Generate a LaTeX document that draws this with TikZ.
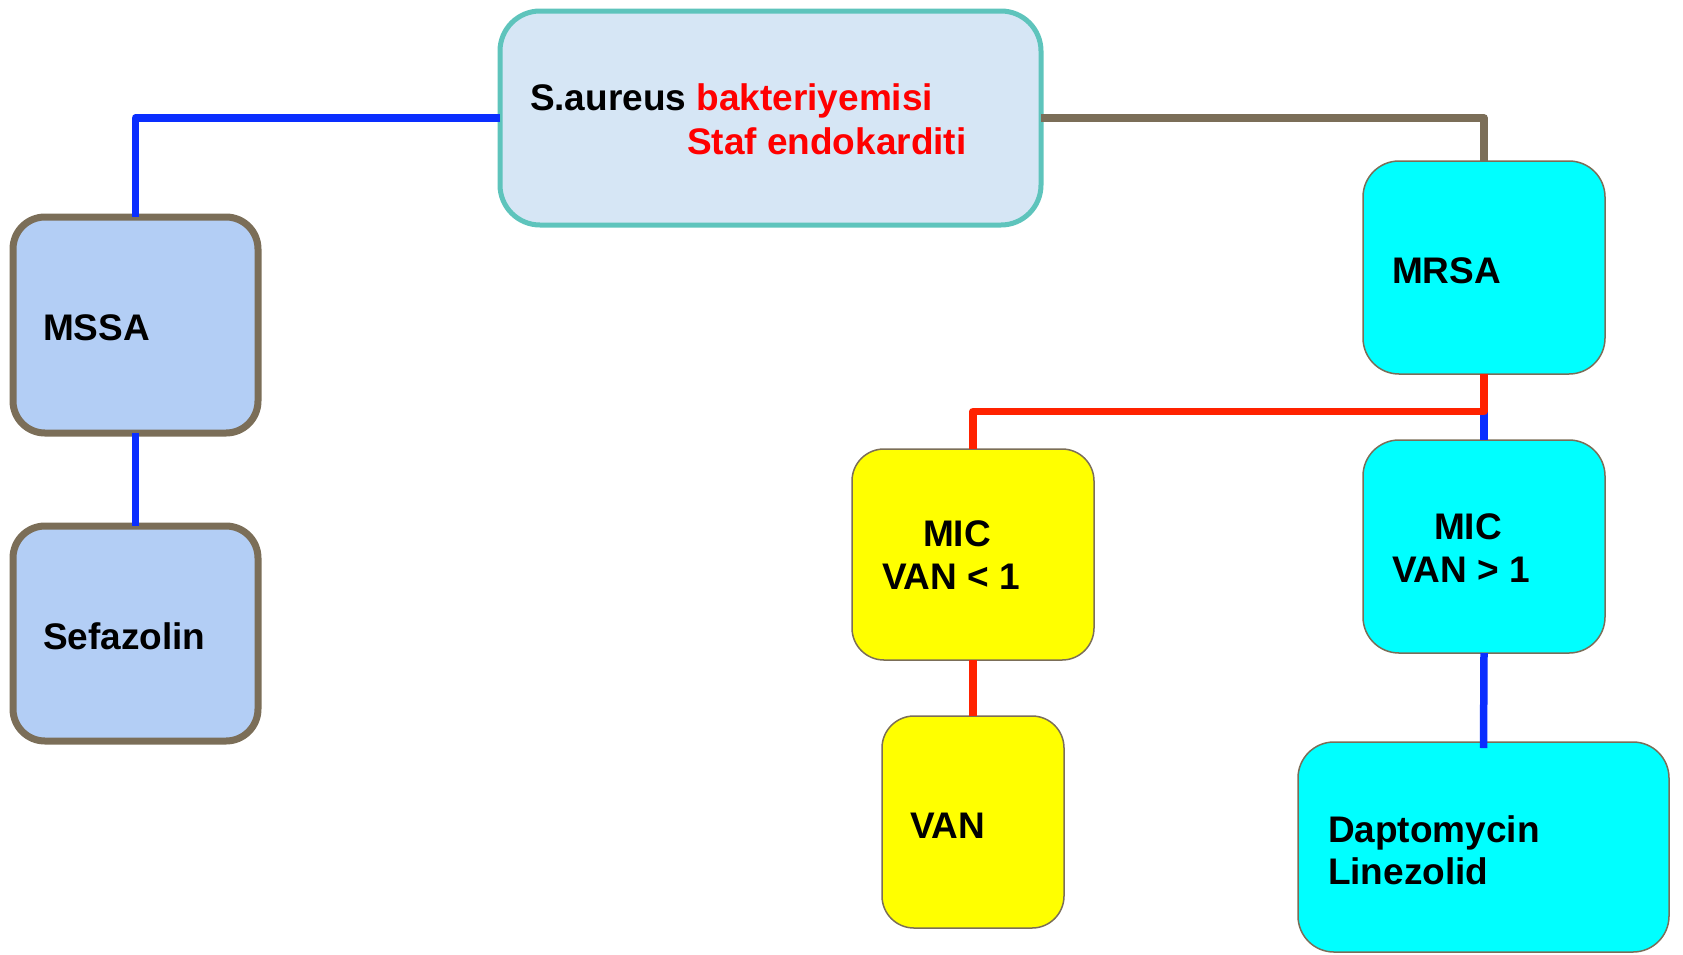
\documentclass[tikz,border=0pt]{standalone}
\usepackage{fontspec}
\setmainfont{Liberation Sans}
\definecolor{topfill}{HTML}{D6E6F5}
\definecolor{topedge}{HTML}{5EC4BC}
\definecolor{brownedge}{HTML}{7B6E58}
\definecolor{mssafill}{HTML}{B3CEF5}
\definecolor{cyanfill}{HTML}{00FFFF}
\definecolor{yelfill}{HTML}{FFFF00}
\definecolor{lblue}{HTML}{0A2EFF}
\definecolor{lred}{HTML}{FF2200}
\definecolor{tred}{HTML}{FF0000}
\begin{document}
\begin{tikzpicture}[x=1pt,y=-1pt,
  box/.style={rectangle,inner sep=0pt,outer sep=0pt},
  topbox/.style={box,draw=topedge,line width=5pt,fill=topfill,rounded corners=40pt},
  mbox/.style={box,draw=brownedge,line width=7pt,fill=mssafill,rounded corners=32pt},
  cbox/.style={box,draw=brownedge,line width=1.5pt,fill=cyanfill,rounded corners=36pt},
  ybox/.style={box,draw=brownedge,line width=1.5pt,fill=yelfill,rounded corners=32pt},
  lbl/.style={inner sep=0pt,outer sep=0pt,anchor=base west,font=\fontsize{37}{44}\selectfont\bfseries},
  clbl/.style={lbl,anchor=base},
  conn/.style={line width=7.5pt,line join=round},
]
\useasboundingbox (0,0) rectangle (1683,954);
% boxes
\node[topbox,minimum width=541pt,minimum height=214pt] (top) at (770.5,118) {};
\node[mbox,minimum width=245pt,minimum height=216pt] (mssa) at (135.5,325) {};
\node[mbox,minimum width=245pt,minimum height=215pt] (sefa) at (135.5,633.5) {};
\node[cbox,minimum width=242pt,minimum height=213pt] (mrsa) at (1484,267.5) {};
\node[ybox,minimum width=242pt,minimum height=211pt] (mic1) at (973,554.5) {};
\node[ybox,minimum width=182pt,minimum height=212pt] (van) at (973,822) {};
\node[cbox,minimum width=242pt,minimum height=213pt] (mic2) at (1484,546.5) {};
\node[cbox,minimum width=371pt,minimum height=210pt] (dapto) at (1483.5,847) {};
% connectors
\coordinate (tl) at (mssa.north |- top.west);
\coordinate (tr) at (mrsa.north |- top.east);
\coordinate (rj) at (1484,411.5);
\coordinate (rl) at (mic1.north |- rj);
\draw[conn,lblue] (top.west) -- (tl) -- (mssa.north);
\draw[conn,lblue] (mssa.south) -- (sefa.north);
\draw[conn,brownedge] (top.east) -- (tr) -- (mrsa.north);
\draw[conn,lblue] (rj) -- (mic2.north);
\draw[conn,lred] (mrsa.south) -- (rj) -- (rl) -- (mic1.north);
\draw[conn,lred] (mic1.south) -- (van.north);
\draw[conn,lblue] (mic2.south) -- ([yshift=-6pt]dapto.north);
% texts
\node[lbl] (t1) at (530,110) {S.aureus \textcolor{tred}{bakteriyemisi}};
\node[lbl,text=tred] (t2) at (687,154) {Staf endokarditi};
\node[lbl] (tmssa) at (43,340) {MSSA};
\node[lbl] (tsefa) at (43,649) {Sefazolin};
\node[lbl] (tmrsa) at (1392,283) {MRSA};
\node[clbl] (tmic1) at (957,546) {MIC};
\node[lbl] (tvan1) at (882,589) {VAN < 1};
\node[lbl] (tvan) at (910,838) {VAN};
\node[clbl] (tmic2) at (1468,539) {MIC};
\node[lbl] (tvan2) at (1392,582) {VAN > 1};
\node[lbl] (tdap) at (1328,842) {Daptomycin};
\node[lbl] (tlin) at (1328,884) {Linezolid};
\end{tikzpicture}
\end{document}
